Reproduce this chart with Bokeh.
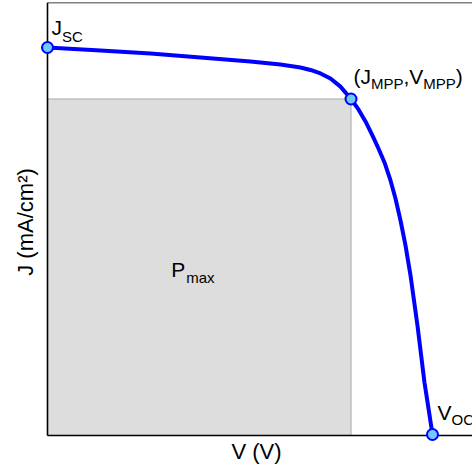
from bokeh.plotting import figure
from bokeh.models import Range1d, LinearAxis, FixedTicker
from bokeh.core.properties import value
from bokeh.embed import file_html
from bokeh.resources import INLINE

# J-V curve of a solar cell (V in volts, J in mA/cm^2)
V = [0.0, 0.0854, 0.1659, 0.2464, 0.3269, 0.3752, 0.4074, 0.4235, 0.4396, 0.4557, 0.4718,
     0.4888,
     0.5008, 0.5121, 0.5234, 0.5330, 0.5427, 0.5524, 0.5604, 0.5685, 0.5765, 0.5846,
     0.5958, 0.6071, 0.6136, 0.62]
J = [20.00, 19.85, 19.69, 19.48, 19.28, 19.12, 18.97, 18.84, 18.66, 18.40, 17.98,
     17.34,
     16.80, 16.18, 15.45, 14.78, 14.06, 13.13, 12.20, 11.06, 9.77, 8.22,
     5.63, 2.69, 1.34, 0.0]

# characteristic points
V_sc, J_sc = 0.0, 20.00
V_mpp, J_mpp = 0.4888, 17.34
V_oc, J_oc = 0.62, 0.0

X_LABEL = "V (V)"
Y_LABEL = "J (mA/cm\u00b2)"

FONT = "Liberation Sans"

X_START, X_END = -0.01127, 0.68442
Y_START, Y_END = -0.3618, 22.326
Y_AXIS = -0.0517   # level of the drawn V axis line

p = figure(width=472, height=473, output_backend="svg", toolbar_location=None,
           x_range=Range1d(X_START, X_END), y_range=Range1d(Y_START, Y_END),
           min_border_left=40, min_border_right=0, min_border_top=2, min_border_bottom=32,
           x_axis_location=None, y_axis_location=None)
p.outline_line_color = None
p.background_fill_color = "white"
p.border_fill_color = "white"
p.xgrid.visible = False
p.ygrid.visible = False

def label_axis(ax, text, standoff):
    ax.ticker = FixedTicker(ticks=[])
    ax.axis_line_color = None
    ax.major_tick_line_color = None
    ax.minor_tick_line_color = None
    ax.major_tick_out = 0
    ax.major_tick_in = 0
    ax.major_label_standoff = 0
    ax.major_label_text_font_size = "0px"
    ax.axis_label = text
    ax.axis_label_text_font = FONT
    ax.axis_label_text_font_size = "22px"
    ax.axis_label_text_font_style = "normal"
    ax.axis_label_text_color = "#000000"
    ax.axis_label_standoff = standoff

xax = LinearAxis()
label_axis(xax, X_LABEL, -3)
p.add_layout(xax, "below")
yax = LinearAxis()
label_axis(yax, Y_LABEL, 3)
p.add_layout(yax, "left")

# P_max rectangle
p.quad(left=[0], right=[V_mpp], bottom=[Y_AXIS], top=[J_mpp],
       fill_color="#dddddd", line_color="#a8a8a8", line_width=1)

# axis frame lines (left, bottom, top)
p.segment(x0=[0, 0, 0], y0=[Y_AXIS, Y_AXIS, Y_END], x1=[0, X_END, X_END], y1=[Y_END, Y_AXIS, Y_END],
          line_color="#000000", line_width=1.6)

# curve
p.line(V, J, line_color="#0000ff", line_width=4, line_join="round")

# characteristic points
p.scatter([V_sc, V_mpp, V_oc], [J_sc, J_mpp, J_oc], size=11, marker="circle",
          fill_color="#70c8ff", line_color="#0000ff", line_width=2)

def txt(x, y, s, size, dx, dy):
    p.text(x=[x], y=[y], text=[s], text_font=value(FONT), text_font_size=size,
           text_color="#000000", text_align="left", text_baseline="alphabetic",
           x_offset=dx, y_offset=dy)

MAIN, SUB = "21px", "15px"
# J_SC
txt(V_sc, J_sc, "J", MAIN, 4, -20)
txt(V_sc, J_sc, "SC", SUB, 14.5, -11)
# (J_MPP,V_MPP)
txt(V_mpp, J_mpp, "(J", MAIN, 2.5, -22)
txt(V_mpp, J_mpp, "MPP", SUB, 20, -15)
txt(V_mpp, J_mpp, ",V", MAIN, 52.5, -22)
txt(V_mpp, J_mpp, "MPP", SUB, 72.3, -15)
txt(V_mpp, J_mpp, ")", MAIN, 104.8, -22)
# V_OC
txt(V_oc, J_oc, "V", MAIN, 5, -22)
txt(V_oc, J_oc, "OC", SUB, 19, -15)
# P_max
txt(V_mpp / 2, J_mpp / 2, "P", MAIN, -28, 3)
txt(V_mpp / 2, J_mpp / 2, "max", SUB, -13, 11)

open("out.html", "w").write(file_html(p, INLINE))
